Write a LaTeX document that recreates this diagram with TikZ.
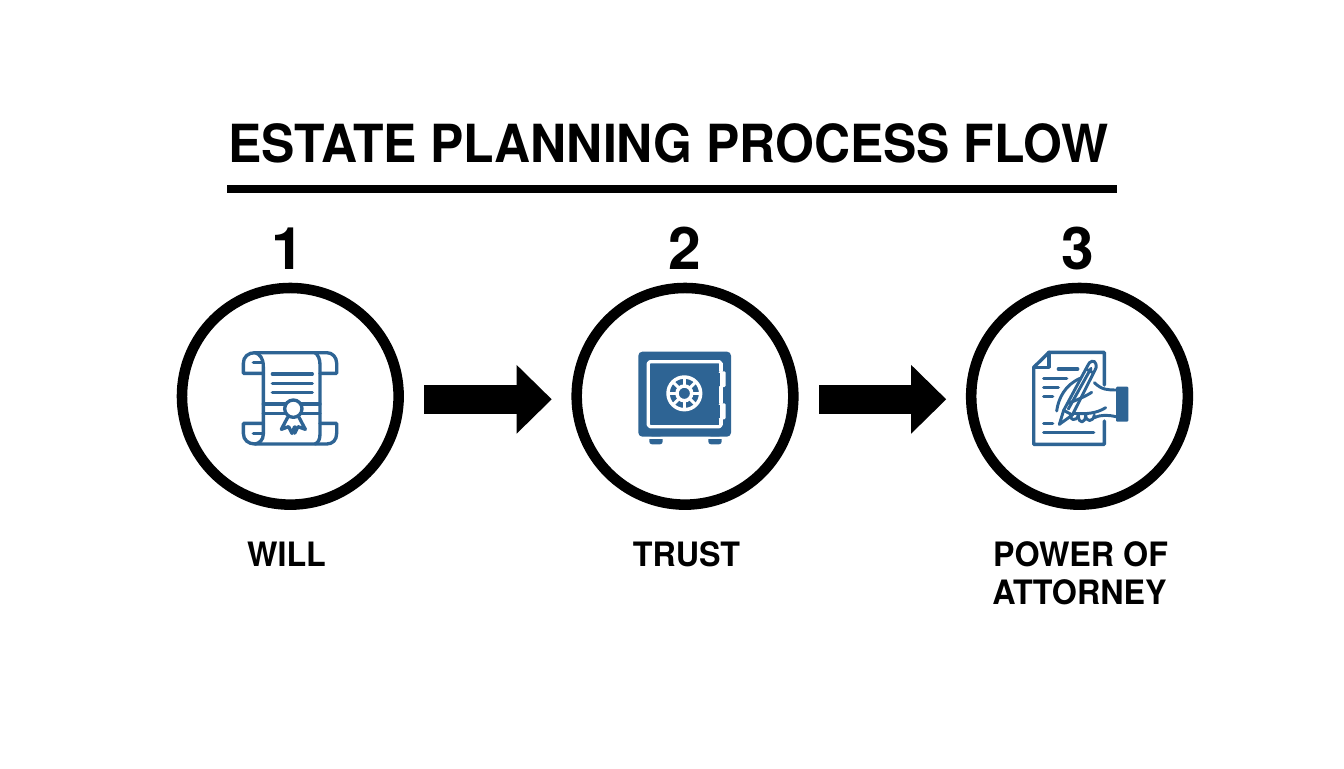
\documentclass[tikz,border=0pt]{standalone}
\usepackage{fontspec}
\setmainfont{TeX Gyre Heros}
\usetikzlibrary{arrows.meta}
\definecolor{iconblue}{HTML}{2E6494}
\newcommand{\narrowtext}[2]{\scalebox{#1}[1]{#2}}
\tikzset{
  ringnode/.style={circle,draw=black,line width=7.9pt,minimum size=162.5pt,inner sep=0pt,outer sep=0pt},
  flowarrow/.style={line width=22pt,draw=black,-{Triangle[length=26.25pt,width=51.5pt,fill=black,line width=0pt]}},
  titletext/.style={anchor=base,inner sep=0pt,font=\fontsize{39.4pt}{39.4pt}\selectfont\bfseries},
  numtext/.style={anchor=base,inner sep=0pt,font=\fontsize{44pt}{44pt}\selectfont\bfseries},
  labeltext/.style={anchor=base,inner sep=0pt,font=\fontsize{25.2pt}{25.2pt}\selectfont\bfseries},
  iconline/.style={draw=iconblue,line width=2.5pt,line join=round,line cap=round},
  iconthin/.style={draw=iconblue,line width=2.2pt,line join=round,line cap=round},
  safeline/.style={draw=white,line width=2.4pt,line join=round},
}
\begin{document}
\begin{tikzpicture}[x=0.75pt,y=-0.75pt]
\useasboundingbox[fill=white] (0,0) rectangle (1344,768);
% title and rule
\node[titletext] (title) at (668.3,162.3) {\narrowtext{0.95}{ESTATE PLANNING PROCESS FLOW}};
\coordinate (ruleL) at (227.3,188.8);
\coordinate (ruleR) at (1117.3,188.8);
\draw[line width=5.8pt] (ruleL) -- (ruleR);
% circles
\node[ringnode] (c1) at (290.3,396.3) {};
\node[ringnode] (c2) at (685,396.3) {};
\node[ringnode] (c3) at (1079.5,396.3) {};
% numbers
\node[numtext] (n1) at (288,269.3) {1};
\node[numtext] (n2) at (685,269.3) {2};
\node[numtext] (n3) at (1077.5,269.3) {3};
% labels
\node[labeltext] (l1) at (286.5,566) {\narrowtext{0.96}{WILL}};
\node[labeltext] (l2) at (686.5,566) {\narrowtext{0.96}{TRUST}};
\node[labeltext] (l3a) at (1080.5,566) {\narrowtext{0.96}{POWER OF}};
\node[labeltext] (l3b) at (1079.5,604) {\narrowtext{0.96}{ATTORNEY}};
% arrows
\draw[flowarrow,shorten <=19.3pt,shorten >=18.75pt] ([yshift=-2.25pt]c1.east) -- ([yshift=-2.25pt]c2.west);
\draw[flowarrow,shorten <=19.3pt,shorten >=18.75pt] ([yshift=-2.25pt]c2.east) -- ([yshift=-2.25pt]c3.west);
% scroll icon
\begin{scope}[shift={(220,330)},x=.25pt,y=-.25pt]
  \draw[iconline] (130,130) -- (70,130) -- (70,100) .. controls (70,80) and (85,68) .. (105,68) -- (320,68) .. controls (338,68) and (350,82) .. (350,100) -- (350,130) -- (300,130);
  \draw[iconline] (105,68) .. controls (120,72) and (130,85) .. (130,110) -- (130,312) .. controls (130,330) and (118,340) .. (105,342);
  \draw[iconline] (285,68) .. controls (295,75) and (300,88) .. (300,105) -- (300,312) .. controls (300,328) and (295,338) .. (285,342);
  \draw[iconline] (100,97) -- (128,97);
  \draw[iconline] (130,280) -- (70,280) -- (70,310) .. controls (70,330) and (85,342) .. (105,342) -- (320,342) .. controls (338,342) and (350,330) .. (350,310) -- (350,280) -- (300,280);
  \draw[iconline] (100,310) -- (128,310);
  \foreach \yy in {132,160,188} \draw[iconline] (157,\yy) -- (277,\yy);
  \draw[iconline] (130,222) -- (195,222) (245,222) -- (300,222) (130,250) -- (195,250) (245,250) -- (300,250);
  \draw[iconline] (220,236) circle[radius=26];
  \draw[iconline] (203,262) -- (184,298) -- (206,290) -- (216,310) -- (224,290);
  \draw[iconline] (237,262) -- (256,298) -- (234,290) -- (224,310);
\end{scope}
% safe icon
\begin{scope}[shift={(620,330)},x=.25pt,y=-.25pt]
  \fill[iconblue,rounded corners=3pt] (55,65) rectangle (333,320);
  \fill[iconblue,rounded corners=2pt] (88,320) rectangle (128,343);
  \fill[iconblue,rounded corners=2pt] (265,320) rectangle (305,343);
  \fill[white] (55,322) rectangle (333,328);
  \draw[safeline,rounded corners=1.2pt] (85,95) rectangle (303,290);
  \fill[white,rounded corners=1pt] (296,124) rectangle (317,171);
  \fill[white,rounded corners=1pt] (296,220) rectangle (317,268);
  \fill[iconblue] (285,128) rectangle (300,167);
  \fill[iconblue] (285,224) rectangle (300,264);
  \fill[white] (297,100) -- (308,100) -- (308,124) -- (297,124) -- cycle;
  \fill[white] (297,171) -- (308,171) -- (308,220) -- (297,220) -- cycle;
  \fill[white] (297,268) -- (308,268) -- (308,285) -- (297,285) -- cycle;
  \draw[draw=white,line width=2.6pt] (193,190) circle[radius=49];
  \draw[draw=white,line width=2.6pt] (193,190) circle[radius=22];
  \foreach \aa in {0,45,...,315} \draw[draw=white,line width=2.2pt] (193,190) ++(\aa:22) -- ++(\aa:26);
\end{scope}
% document and hand icon
\begin{scope}[shift={(1015,335)},x=.25pt,y=-.25pt]
  \draw[iconline] (268,150) -- (268,52) -- (102,52) -- (56,97) -- (56,328) -- (268,328) -- (268,258);
  \draw[iconline] (102,52) -- (102,97) -- (56,97);
  \draw[iconline] (130,102) -- (188,102);
  \draw[iconline] (86,130) -- (155,130);
  \draw[iconline] (86,157) -- (130,157);
  \draw[iconline] (86,185) -- (113,185);
  \draw[iconline] (86,265) -- (113,265);
  \draw[iconline] (86,292) -- (236,292);
  % pen
  \draw[iconthin] (133,268) -- (146,226) -- (218,92) .. controls (222,78) and (240,72) .. (243,88) .. controls (245,96) and (243,100) .. (240,105) -- (172,240) -- cycle;
  \draw[iconthin] (146,226) -- (172,240);
  \draw[iconthin] (160,222) -- (228,100);
  \draw[iconthin] (213,102) -- (236,114);
  % hand
  \draw[iconthin] (125,228) .. controls (130,190) and (150,150) .. (195,130);
  \draw[iconthin] (160,205) .. controls (185,195) and (210,185) .. (230,172);
  \draw[iconthin] (238,143) .. controls (260,165) and (280,165) .. (303,165);
  \draw[iconthin] (175,235) .. controls (215,238) and (245,235) .. (272,218);
  \draw[iconthin] (303,245) .. controls (280,240) and (260,238) .. (238,248);
  \draw[iconthin] (168,238) .. controls (160,255) and (185,262) .. (190,240);
  \draw[iconthin] (190,240) .. controls (190,270) and (212,265) .. (212,240);
  \draw[iconthin] (212,240) .. controls (212,262) and (235,262) .. (238,240);
  \fill[iconblue,rounded corners=.8pt] (303,155) rectangle (340,260);
\end{scope}
\end{tikzpicture}
\end{document}
